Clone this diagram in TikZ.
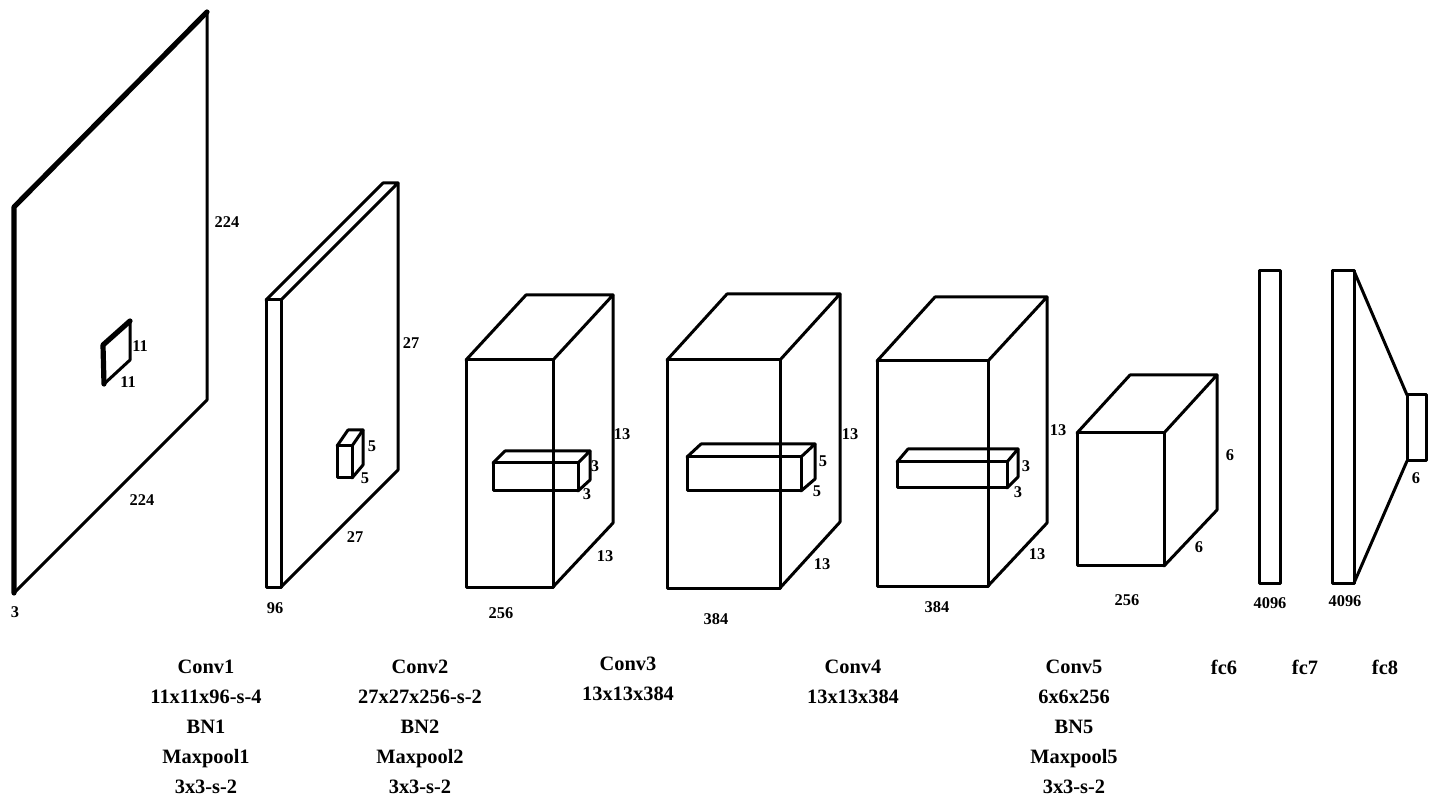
\documentclass[tikz,border=0pt]{standalone}
\usepackage{fontspec}
\setmainfont{Liberation Serif}
\begin{document}
\begin{tikzpicture}[x=0.5pt,y=-0.5pt,
  ln/.style={line width=1.5pt, line join=round, line cap=round},
  heavy/.style={line width=2.6pt, line join=round, line cap=round},
  dim/.style={font=\fontsize{8.2}{9}\selectfont\bfseries, inner sep=0pt},
  capt/.style={font=\fontsize{10.2}{15}\selectfont\bfseries, align=center, inner sep=0pt, anchor=north}]
\useasboundingbox (0,0) rectangle (1441,807);

% ---- Conv1 input slab
\draw[ln] (14,207) -- (207,12) -- (207,400) -- (14,593) -- cycle;
\draw[heavy] (14,593) -- (14,207) -- (207,12);
\draw[ln] (103,345) -- (130,321) -- (130,360) -- (104,384) -- cycle;
\draw[heavy] (104,384) -- (103,345) -- (130,321);
\node[dim] (d1a) at (227,222) {224};
\node[dim] (d1b) at (142,500) {224};
\node[dim] (d1c) at (15,612) {3};
\node[dim] (d1d) at (140,346) {11};
\node[dim] (d1e) at (128,382) {11};

% ---- Conv2 slab
\draw[ln] (266,300) rectangle (281,587);
\draw[ln] (266,300) -- (383,183) -- (398,183) -- (281,300);
\draw[ln] (398,183) -- (398,470) -- (281,587);
\draw[ln] (337,446) rectangle (352,478);
\draw[ln] (337,446) -- (348,430) -- (363,430) -- (352,446);
\draw[ln] (363,430) -- (363,465) -- (352,478);
\node[dim] (d2a) at (411,343) {27};
\node[dim] (d2b) at (355,537) {27};
\node[dim] (d2c) at (275,608) {96};
\node[dim] (d2d) at (372,446) {5};
\node[dim] (d2e) at (365,478) {5};

% ---- Conv3 block
\draw[ln] (466,360) rectangle (553,587);
\draw[ln] (466,360) -- (526,295) -- (613,295) -- (553,360);
\draw[ln] (613,295) -- (613,523) -- (553,587);
\draw[ln] (493,463) rectangle (578,491);
\draw[ln] (493,463) -- (505,451) -- (590,451) -- (578,463);
\draw[ln] (590,451) -- (590,480) -- (578,491);
\node[dim] (d3a) at (622,434) {13};
\node[dim] (d3b) at (605,556) {13};
\node[dim] (d3c) at (501,613) {256};
\node[dim] (d3d) at (595,466) {3};
\node[dim] (d3e) at (587,494) {3};

% ---- Conv4 block
\draw[ln] (667,360) rectangle (780,588);
\draw[ln] (667,360) -- (727,294) -- (840,294) -- (780,360);
\draw[ln] (840,294) -- (840,522) -- (780,588);
\draw[ln] (687,457) rectangle (801,491);
\draw[ln] (687,457) -- (701,444) -- (815,444) -- (801,457);
\draw[ln] (815,444) -- (815,479) -- (801,491);
\node[dim] (d4a) at (850,434) {13};
\node[dim] (d4b) at (822,564) {13};
\node[dim] (d4c) at (716,619) {384};
\node[dim] (d4d) at (823,461) {5};
\node[dim] (d4e) at (817,491) {5};

% ---- Conv5 block
\draw[ln] (877,361) rectangle (988,586);
\draw[ln] (877,361) -- (935,297) -- (1047,297) -- (988,361);
\draw[ln] (1047,297) -- (1047,523) -- (988,586);
\draw[ln] (897,462) rectangle (1007,488);
\draw[ln] (897,462) -- (908,449) -- (1018,449) -- (1007,462);
\draw[ln] (1018,449) -- (1018,477) -- (1007,488);
\node[dim] (d5a) at (1058,430) {13};
\node[dim] (d5b) at (1037,554) {13};
\node[dim] (d5c) at (937,607) {384};
\node[dim] (d5d) at (1026,466) {3};
\node[dim] (d5e) at (1018,492) {3};

% ---- 6x6x256 block
\draw[ln] (1077,433) rectangle (1164,566);
\draw[ln] (1077,433) -- (1130,375) -- (1217,375) -- (1164,433);
\draw[ln] (1217,375) -- (1217,510) -- (1164,566);
\node[dim] (d6a) at (1230,455) {6};
\node[dim] (d6b) at (1199,547) {6};
\node[dim] (d6c) at (1127,600) {256};

% ---- fc layers
\draw[ln] (1259,271) rectangle (1280,583);
\node[dim] (d7a) at (1270,603) {4096};
\draw[ln] (1332,271) rectangle (1354,583);
\node[dim] (d8a) at (1345,601) {4096};
\draw[ln] (1354,271) -- (1407,395);
\draw[ln] (1354,583) -- (1407,461);
\draw[ln] (1407,395) rectangle (1426,461);
\node[dim] (d9a) at (1416,478) {6};

% ---- captions
\node[capt] (c1) at (206,660) {Conv1\\11x11x96-s-4\\BN1\\Maxpool1\\3x3-s-2};
\node[capt] (c2) at (420,660) {Conv2\\27x27x256-s-2\\BN2\\Maxpool2\\3x3-s-2};
\node[capt] (c3) at (628,657) {Conv3\\13x13x384};
\node[capt] (c4) at (853,660) {Conv4\\13x13x384};
\node[capt] (c5) at (1074,660) {Conv5\\6x6x256\\BN5\\Maxpool5\\3x3-s-2};
\node[capt] (c6) at (1224,660) {fc6};
\node[capt] (c7) at (1305,660) {fc7};
\node[capt] (c8) at (1385,660) {fc8};
\end{tikzpicture}
\end{document}
